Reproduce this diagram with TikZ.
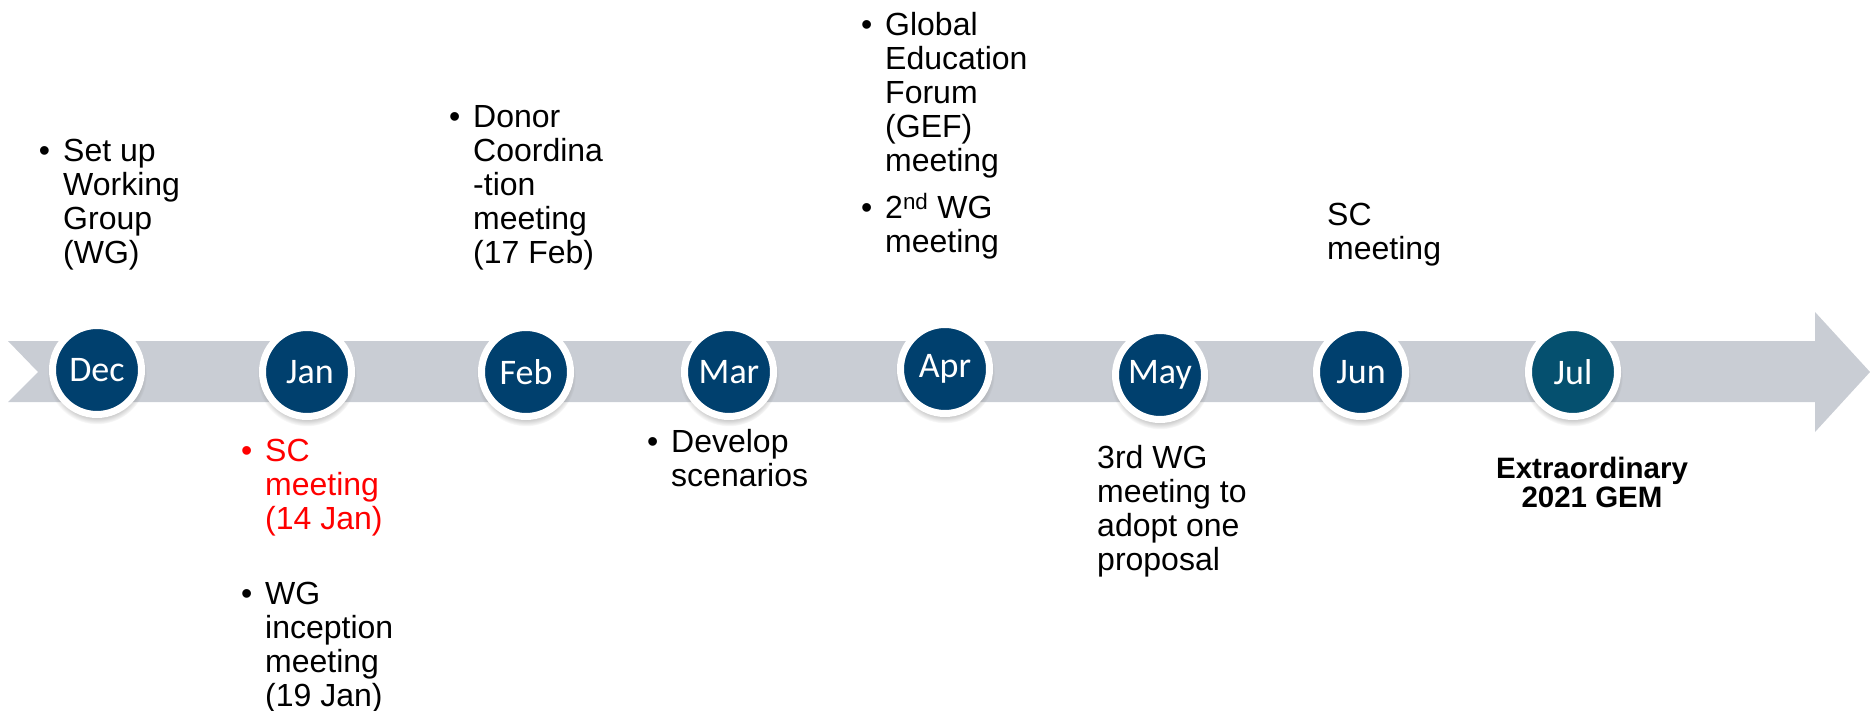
\documentclass[tikz,border=0pt]{standalone}
\usepackage{fontspec}
\setmainfont{Liberation Sans}
\newfontfamily\monthfont{Carlito}
\usepackage{tikz}
\usetikzlibrary{shadows}

\definecolor{monthblue}{HTML}{00406E}
\definecolor{julblue}{HTML}{05506F}
\definecolor{bandgray}{HTML}{C9CDD4}
\newcommand{\evbullet}{\llap{\textbullet\hspace{13pt}}}

\begin{document}
\begin{tikzpicture}[x=1pt,y=-1pt,
	month/.style={circle,minimum size=89pt,inner sep=0pt,fill=monthblue,draw=white,line width=7pt,
		text=white,font=\monthfont\fontsize{36}{36}\selectfont,
		circular drop shadow={shadow xshift=0pt,shadow yshift=-4pt,shadow scale=1.12,opacity=0.45}},
	event/.style={anchor=north west,align=left,inner sep=0pt,font=\fontsize{32}{34}\selectfont}]
		\useasboundingbox (0,0) rectangle (1870,711);
		% time band
		\fill[bandgray] (8,341) -- (1815,341) -- (1815,312) -- (1870,372) -- (1815,432) -- (1815,402) -- (8,402) -- (38,372) -- cycle;
		% months
		\node (dec) at (97,370)[month]{Dec};
		\node (jan) at (307,372)[month]{\hspace{6pt}Jan};
		\node (feb) at (526,372)[month]{Feb};
		\node (mar) at (729,372)[month]{Mar};
		\node (apr) at (945,369)[month]{Apr};
		\node (may) at (1160,375)[month]{May};
		\node (jun) at (1361,372)[month]{Jun};
		\node (jul) at (1573,372)[month,fill=julblue]{Jul};
		% events above
		\node (setup) at (63,139)[event]{\evbullet Set up\\Working\\Group\\(WG)};
		\node (donor) at (473,105)[event]{\evbullet Donor\\Coordina\\-tion\\meeting\\(17 Feb)};
		\node (gef) at (885,12)[event]{\evbullet Global\\Education\\Forum\\(GEF)\\meeting};
		\node (wgtwo) at (885,193)[event]{\evbullet 2\textsuperscript{nd} WG\\meeting};
		\node (scjun) at (1327,203)[event]{SC\\meeting};
		% events below
		\node (scjan) at (265,439)[event,text=red]{\evbullet SC\\meeting\\(14 Jan)};
		\node (wgone) at (265,582)[event]{\evbullet WG\\inception\\meeting\\(19 Jan)};
		\node (scen) at (671,429)[event]{\evbullet Develop\\scenarios};
		\node (wgthree) at (1097,445)[event]{3rd WG\\meeting to\\adopt one\\proposal};
		\node (gem) at (1592,457)[event,anchor=north,align=center,font=\bfseries\fontsize{29.5}{29}\selectfont]{Extraordinary\\2021 GEM};
\end{tikzpicture}
\end{document}
